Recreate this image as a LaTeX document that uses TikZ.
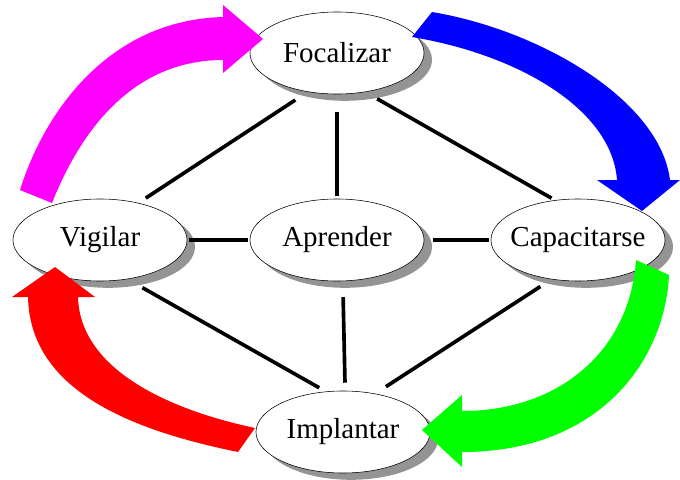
\documentclass[tikz,border=0pt]{standalone}
\usepackage{fontspec}
\setmainfont{Liberation Serif}
\newfontfamily\etqfont{Liberation Serif}
\usetikzlibrary{shapes.geometric,shadows}
\definecolor{fucsia}{rgb}{1,0,1}
\definecolor{azul}{rgb}{0,0,1}
\definecolor{verde}{rgb}{0,1,0}
\definecolor{rojo}{rgb}{1,0,0}

\begin{document}
\begin{tikzpicture}[x=0.025cm,y=-0.025cm,
		etapa/.style={ellipse,draw,thin,fill=white,minimum width=4.35cm,minimum height=2.05cm,
			inner xsep=-5pt,inner ysep=0pt,font=\etqfont\fontsize{20.6}{24}\selectfont,
			drop shadow={shadow xshift=0.2cm,shadow yshift=-0.17cm,fill=black!42,opacity=1}},
		enlace/.style={line width=2.6pt}]
		\useasboundingbox (0,0) rectangle (680,480);
		\node[etapa] (foc) at (337,53) {Focalizar};
		\node[etapa] (vig) at (100,240) {Vigilar};
		\node[etapa] (apr) at (337,240) {Aprender};
		\node[etapa] (cap) at (578,240) {Capacitarse};
		\node[etapa] (imp) at (343,432) {Implantar};
		\draw[enlace,shorten <=0.37cm,shorten >=0.22cm] (foc.233.5) -- (vig.44.4);
		\draw[enlace,shorten <=0.45cm,shorten >=0.07cm] (foc.-90) -- (apr.90);
		\draw[enlace,shorten <=0.34cm,shorten >=0.1cm] (foc.-54.2) -- (cap.120.2);
		\draw[enlace,shorten <=1pt,shorten >=1pt] (vig.east) -- (apr.west);
		\draw[enlace,shorten <=0.22cm,shorten >=1pt] (apr.east) -- (cap.west);
		\draw[enlace,shorten <=0.43cm,shorten >=0.19cm] (vig.-55.1) -- (imp.113);
		\draw[enlace,shorten <=0.4cm,shorten >=0.2cm] (apr.-82) -- (imp.87.7);
		\draw[enlace,shorten <=0.33cm,shorten >=0.32cm] (cap.236.6) -- (imp.50.9);
		\fill[fucsia] (20,190) .. controls (45,110) and (110,20) .. (223,17) -- (223,5) -- (263,39)
			-- (223,73) -- (223,60) .. controls (140,60) and (85,120) .. (52,203) -- cycle;
		\fill[azul] (432,12) .. controls (540,30) and (660,100) .. (670,180) -- (680,180) -- (642,211)
			-- (597,180) -- (617,180) .. controls (612,110) and (520,55) .. (412,37) -- cycle;
		\fill[verde] (669,275) .. controls (665,360) and (600,452) .. (462,452) -- (462,467) -- (422,430)
			-- (462,395) -- (462,411) .. controls (560,411) and (630,350) .. (636,260) -- cycle;
		\fill[rojo] (238,452) .. controls (130,430) and (30,390) .. (28,297) -- (12,297) -- (55,267)
			-- (95,297) -- (78,297) .. controls (80,370) and (170,410) .. (255,428) -- cycle;
	\end{tikzpicture}
\end{document}
